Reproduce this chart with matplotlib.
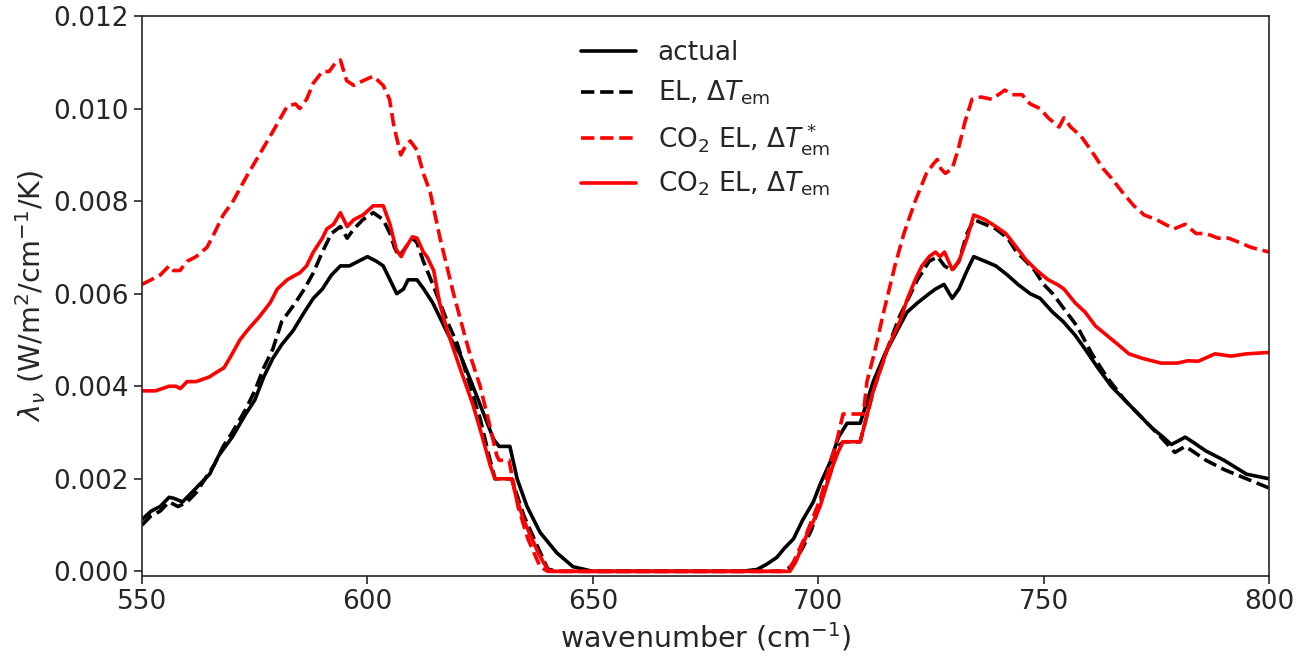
import matplotlib
matplotlib.use("Agg")
import matplotlib.pyplot as plt
import seaborn as sns

sns.set_style("ticks")
plt.rcParams["font.family"] = ["DejaVu Sans"]
plt.rcParams["mathtext.fontset"] = "dejavusans"

# actual
wn_actual = [550, 552, 554, 556, 557, 559, 561, 563, 565, 567, 570, 573, 575, 577, 579,
             581, 583.5, 586, 588, 590, 592, 594, 596, 598, 600, 602, 603.5, 605, 606.5,
             608, 609, 611, 612.5, 614.5, 616, 618, 620.5, 623, 625, 628, 629.2, 631.6,
             633.2, 635.4, 638.3, 642, 645.6, 650, 683, 686.4, 688.5, 690.8, 692.5, 694.5,
             696.5, 698.9, 700.5, 702.6, 704.5, 706.4, 709.3, 712.2, 714.8, 717.5, 719.7,
             722, 724.6, 726, 727.9, 729.7, 731.2, 733, 734.5, 737, 739.4, 742, 744.3, 747,
             749.2, 752, 754.3, 757, 759.2, 762, 765, 768, 771, 774, 776.5, 778.3, 779.5,
             781.4, 783, 786, 790, 795, 800]
lam_actual = [0.00112, 0.0013, 0.0014, 0.0016, 0.00158, 0.0015, 0.0017, 0.0019, 0.0021,
              0.0025, 0.0029, 0.0034, 0.0037, 0.0042, 0.0046, 0.0049, 0.0052, 0.0056,
              0.0059, 0.0061, 0.0064, 0.0066, 0.0066, 0.0067, 0.0068, 0.0067, 0.0066,
              0.0063, 0.0060, 0.0061, 0.0063, 0.0063, 0.0061, 0.0058, 0.0055, 0.0051,
              0.0047, 0.0041, 0.0036, 0.00285, 0.0027, 0.0027, 0.0020, 0.0014, 0.00084,
              0.0004, 0.0001, 0.0, 0.0, 0.00004, 0.00015, 0.0003, 0.0005, 0.0007, 0.0011,
              0.0015, 0.0019, 0.00235, 0.0029, 0.0032, 0.0032, 0.0041, 0.0047, 0.0052,
              0.0056, 0.0058, 0.0060, 0.0061, 0.0062, 0.0059, 0.0061, 0.0065, 0.0068,
              0.0067, 0.0066, 0.0064, 0.0062, 0.0060, 0.0059, 0.0056, 0.0054, 0.0051,
              0.0048, 0.0044, 0.0040, 0.0037, 0.0034, 0.0031, 0.0029, 0.00274, 0.0028,
              0.0029, 0.0028, 0.0026, 0.0024, 0.0021, 0.0020]

# EL, dT_em
wn_el = [550, 552, 554, 556, 558, 560, 562, 564, 566, 568, 570, 573, 575, 577, 579, 581,
         584, 586, 588, 590, 592, 594, 595.5, 597, 599, 601.3, 603.5, 605, 606, 607, 608.5,
         610, 611, 612.4, 614.5, 617.7, 620, 623.4, 625, 627.2, 628.3, 632, 634.7, 637.9,
         640, 642, 692, 694, 696.5, 698.5, 700.5, 702.6, 704.5, 705.5, 709.3, 712.2, 715.3,
         718, 720, 722, 724.6, 726.5, 728, 729.7, 731.2, 733, 734.5, 737, 739.4, 742, 744,
         746.1, 748, 750, 752, 754.3, 757.4, 760.7, 764, 768, 772, 776, 779.1, 781.4, 783,
         786, 790, 795, 800]
lam_el = [0.0010, 0.0012, 0.0013, 0.0015, 0.0014, 0.0015, 0.0017, 0.0020, 0.0023, 0.0027,
          0.0030, 0.0035, 0.0039, 0.0044, 0.0048, 0.0054, 0.0058, 0.0061, 0.00645, 0.0069,
          0.0073, 0.00745, 0.0072, 0.0074, 0.0076, 0.00775, 0.0076, 0.0073, 0.0070, 0.0068,
          0.0070, 0.0072, 0.0071, 0.0067, 0.0062, 0.0054, 0.0049, 0.0038, 0.0033, 0.0024,
          0.0020, 0.0020, 0.0012, 0.0005, 0.00005, 0.0, 0.0, 0.0001, 0.0005, 0.0009, 0.0015,
          0.0021, 0.0027, 0.0028, 0.0028, 0.0039, 0.0048, 0.0055, 0.0059, 0.0063, 0.0067,
          0.0068, 0.0066, 0.0065, 0.0067, 0.0073, 0.0076, 0.0075, 0.0074, 0.0072, 0.0069,
          0.0067, 0.0065, 0.0062, 0.0060, 0.0057, 0.0053, 0.0047, 0.0042, 0.0037, 0.0033,
          0.0029, 0.00257, 0.0027, 0.0026, 0.0024, 0.0022, 0.0020, 0.0018]

# CO2 EL, dT*_em
wn_co2_star = [550, 552, 554, 556, 557, 558.4, 560, 562, 564.4, 566, 568, 570.2, 573, 576,
               579, 582.2, 584, 585, 586.5, 588, 590, 591.5, 593, 594, 595.4, 597, 599,
               601.3, 603.5, 604.9, 605.9, 607.4, 608.5, 609.5, 611, 612.4, 613.9, 616.1,
               619.1, 621.3, 623, 625, 627, 628.7, 629.2, 631.4, 633.4, 635.6, 638.3, 640,
               693, 694.5, 697.5, 700.4, 702.6, 704.2, 705.5, 710, 710.8, 712.4, 714.5, 717,
               719, 721.5, 724, 725.5, 726.4, 727.2, 728.2, 729.7, 731, 732.5, 734.1, 736.1,
               738.5, 741.4, 743, 745.2, 747, 749.2, 751, 753.4, 754.5, 756, 758.3, 760.5,
               763.2, 765, 767.4, 770, 772.3, 775, 778.9, 781.4, 783.8, 786, 788.7, 791,
               793.6, 796, 800]
lam_co2_star = [0.0062, 0.0063, 0.0064, 0.0066, 0.0065, 0.0065, 0.0067, 0.0068, 0.0070,
                0.0073, 0.0077, 0.0080, 0.0085, 0.0090, 0.0095, 0.01005, 0.0101, 0.0100,
                0.0102, 0.01055, 0.0108, 0.0108, 0.0110, 0.01105, 0.0106, 0.0105, 0.0106,
                0.0107, 0.0105, 0.0102, 0.0096, 0.0090, 0.0092, 0.0093, 0.0091, 0.0086,
                0.0082, 0.0072, 0.0060, 0.0052, 0.0046, 0.0040, 0.0032, 0.0025, 0.0024,
                0.0024, 0.0014, 0.0007, 0.0001, 0.0, 0.0, 0.0002, 0.00084, 0.00155, 0.0023,
                0.00285, 0.0034, 0.0034, 0.0041, 0.0047, 0.0056, 0.0066, 0.0073, 0.0080,
                0.0086, 0.0088, 0.0089, 0.0087, 0.0086, 0.0087, 0.0091, 0.0097, 0.0102,
                0.01025, 0.0102, 0.0104, 0.0103, 0.0103, 0.0101, 0.0100, 0.0098, 0.0096,
                0.0098, 0.0096, 0.0094, 0.0091, 0.0087, 0.0085, 0.0082, 0.0079, 0.0077,
                0.0076, 0.0074, 0.0075, 0.0073, 0.0073, 0.0072, 0.0072, 0.0071, 0.0070,
                0.0069]

# CO2 EL, dT_em
wn_co2 = [550, 553, 556, 557.5, 558.5, 560, 562, 564.9, 566.5, 568.2, 570, 571.7, 573.3,
          576, 578.4, 580, 582.2, 584, 585, 586.5, 588, 590, 591, 592.5, 594, 595.5, 597,
          599, 601.3, 603.5, 605, 606.4, 607.5, 608.5, 610, 611, 612.4, 613.2, 614.7, 616,
          617.7, 620.5, 623.4, 625.5, 627.2, 628.3, 632, 633, 634.7, 636.5, 637.9, 639,
          640, 641, 693.7, 695, 697.5, 699, 700.4, 702, 703.3, 704.5, 705.5, 709.3, 712.2,
          715.3, 718.1, 719.7, 721.5, 723, 724.6, 726, 727, 728, 729.7, 731.2, 733, 734.5,
          737, 739.4, 741.6, 744, 746.1, 748.5, 751, 753, 754.5, 757, 759.2, 761.5, 764,
          766.5, 768.9, 772, 776, 779.6, 782, 784.3, 788, 791.6, 795, 800]
lam_co2 = [0.0039, 0.0039, 0.0040, 0.0040, 0.00395, 0.0041, 0.0041, 0.0042, 0.0043, 0.0044,
           0.0047, 0.0050, 0.0052, 0.0055, 0.0058, 0.0061, 0.0063, 0.0064, 0.00645, 0.0066,
           0.0069, 0.0072, 0.0074, 0.0075, 0.00775, 0.00745, 0.0076, 0.0077, 0.0079, 0.0079,
           0.0075, 0.00695, 0.0068, 0.0070, 0.00723, 0.0072, 0.0069, 0.0068, 0.0065, 0.0058,
           0.0052, 0.0044, 0.0036, 0.0029, 0.0023, 0.0020, 0.0020, 0.0016, 0.0011, 0.0007,
           0.0004, 0.0002, 0.00004, 0.0, 0.0, 0.0002, 0.0008, 0.0011, 0.0014, 0.0019,
           0.0023, 0.0026, 0.0028, 0.0028, 0.0039, 0.0048, 0.0054, 0.00587, 0.0063, 0.0066,
           0.0068, 0.0069, 0.0068, 0.0069, 0.00652, 0.0067, 0.0072, 0.0077, 0.0076, 0.00745,
           0.0073, 0.0070, 0.00673, 0.0065, 0.0063, 0.0062, 0.0061, 0.0058, 0.0056, 0.0053,
           0.0051, 0.0049, 0.0047, 0.0046, 0.0045, 0.0045, 0.00455, 0.00454, 0.0047, 0.00465,
           0.0047, 0.00473]

fig = plt.figure(figsize=(13.09, 6.59), dpi=100)
ax = fig.add_axes([0.1085, 0.126, 0.861, 0.8497])

lw = 2.6
ax.plot(wn_actual, lam_actual, color="k", lw=lw, label="actual")
ax.plot(wn_el, lam_el, color="k", lw=lw, ls="--", label=r"EL, $\Delta T_{\rm em}$")
ax.plot(wn_co2_star, lam_co2_star, color="r", lw=lw, ls="--",
        label=r"CO$_2$ EL, $\Delta T^*_{\rm em}$")
ax.plot(wn_co2, lam_co2, color="r", lw=lw, label=r"CO$_2$ EL, $\Delta T_{\rm em}$")

ax.set_xlim(550, 800)
ax.set_ylim(-0.0001, 0.012)
ax.set_xticks([550, 600, 650, 700, 750, 800])
ax.set_yticks([0.0, 0.002, 0.004, 0.006, 0.008, 0.010, 0.012])
ax.tick_params(labelsize=19, length=6, width=1.2, colors=".15")
for s in ax.spines.values():
    s.set_color(".15")
    s.set_linewidth(1.2)

ax.set_xlabel(r"wavenumber (cm$^{-1}$)", fontsize=20.5, color=".15")
ax.set_ylabel(r"$\lambda_\nu$ (W/m$^2$/cm$^{-1}$/K)", fontsize=20.5, color=".15")

ax.legend(loc="upper center", frameon=False, fontsize=19, handlelength=2.1,
          labelspacing=0.5, borderaxespad=0.5, labelcolor=".15")

fig.savefig("out.png", dpi=100)
